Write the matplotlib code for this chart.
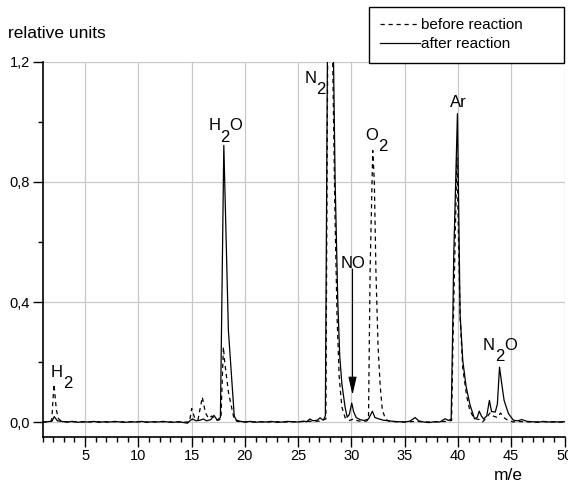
import numpy as np
import matplotlib
matplotlib.use('Agg')
from matplotlib import pyplot as plt
from matplotlib.ticker import MultipleLocator, FuncFormatter

plt.rcParams['font.family'] = ['Liberation Sans', 'DejaVu Sans']

# mass spectrum after reaction (solid)
after_mz = [1.0, 1.5, 1.9, 2.1, 2.4, 2.8, 3.3, 3.8, 4.3, 4.8, 5.3, 5.8, 6.3, 6.8, 7.3, 7.8,
            8.3, 8.8, 9.3, 9.8, 10.3, 10.8, 11.3, 11.8, 12.3, 12.8, 13.3, 13.8, 14.3, 14.6,
            14.9, 15.1, 15.4, 15.8, 16.1, 16.4, 16.8, 17.1, 17.4, 17.7, 17.85, 18.02, 18.45,
            19.0, 19.2, 19.6, 20.0, 20.5, 21.0, 21.5, 22.0, 22.5, 23.0, 23.5, 24.0, 24.5,
            25.0, 25.5, 25.8, 26.1, 26.4, 26.8, 27.05, 27.35, 27.55, 27.75, 28.05, 28.3,
            28.47, 28.72, 28.9, 29.1, 29.4, 29.6, 29.8, 30.03, 30.2, 30.44, 30.8, 31.2,
            31.6, 31.97, 32.2, 32.6, 33.0, 33.5, 34.0, 34.5, 35.0, 35.5, 35.98, 36.3, 36.8,
            37.3, 37.8, 38.3, 38.8, 39.1, 39.36, 39.5, 39.6, 39.95, 40.2, 40.45, 40.77,
            41.14, 41.55, 41.8, 42.0, 42.2, 42.4, 42.7, 42.95, 43.15, 43.5, 43.7, 43.9,
            44.1, 44.33, 44.74, 45.2, 45.6, 46.0, 46.5, 47.0, 47.5, 48.0, 48.5, 49.0,
            49.5, 50.0]
after_int = [0.000, 0.001, 0.003, 0.018, 0.004, 0.002, 0.000, 0.002, -0.001, 0.001, 0.000,
             0.002, -0.001, 0.001, 0.000, 0.002, 0.000, -0.001, 0.001, 0.000, 0.002, -0.001,
             0.001, 0.000, 0.002, 0.000, -0.001, 0.001, -0.002, -0.004, 0.006, 0.010, 0.004,
             0.006, 0.010, 0.004, 0.008, 0.022, 0.006, 0.015, 0.45, 0.922, 0.305, 0.020,
             0.006, 0.002, 0.000, 0.002, -0.001, 0.001, 0.000, 0.002, -0.001, 0.000, 0.002,
             0.001, 0.000, 0.003, 0.001, 0.010, 0.004, 0.006, 0.014, 0.006, 0.020, 1.30,
             2.50, 1.25, 0.80, 0.40, 0.22, 0.128, 0.050, 0.016, 0.025, 0.063, 0.035, 0.015,
             0.008, 0.005, 0.010, 0.036, 0.015, 0.010, 0.006, 0.004, 0.002, 0.001, 0.000,
             0.003, 0.015, 0.004, 0.000, -0.002, 0.001, 0.000, 0.011, 0.005, 0.010, 0.30,
             0.55, 1.028, 0.36, 0.205, 0.117, 0.056, 0.011, 0.015, 0.036, 0.020, 0.010,
             0.020, 0.072, 0.035, 0.033, 0.060, 0.183, 0.130, 0.072, 0.028, 0.006, 0.004,
             0.008, 0.002, 0.001, -0.001, 0.002, 0.000, 0.001, 0.000, 0.001]

# mass spectrum before reaction (dashed)
before_mz = [1.0, 1.5, 1.86, 2.08, 2.3, 2.5, 2.8, 3.3, 4.0, 5.0, 6.0, 7.0, 8.0, 9.0, 10.0,
             11.0, 12.0, 13.0, 14.0, 14.8, 15.0, 15.3, 15.6, 16.0, 16.3, 16.6, 16.9, 17.2,
             17.5, 17.75, 17.98, 18.1, 18.45, 18.8, 19.0, 19.3, 20.0, 21.0, 22.0, 23.0,
             24.0, 25.0, 26.0, 27.0, 27.6, 27.78, 28.0, 28.2, 28.45, 28.65, 28.85, 29.1,
             29.4, 29.8, 30.2, 30.6, 31.0, 31.4, 31.6, 31.75, 32.0, 32.15, 32.3, 32.5, 32.7,
             32.9, 33.2, 33.5, 34.0, 35.0, 36.0, 37.0, 38.0, 39.0, 39.4, 39.55, 39.9, 40.2,
             40.45, 40.8, 41.1, 41.5, 42.0, 42.3, 42.7, 43.0, 43.3, 43.7, 44.0, 44.3, 44.7,
             45.2, 45.5, 46.0, 47.0, 48.0, 49.0, 50.0]
before_int = [0.000, 0.000, 0.004, 0.126, 0.040, 0.011, 0.002, 0.000, 0.001, 0.000, 0.001,
              0.000, 0.001, 0.000, 0.001, 0.000, 0.001, 0.000, 0.000, 0.000, 0.045, 0.012,
              0.008, 0.083, 0.030, 0.012, 0.020, 0.008, 0.006, 0.010, 0.250, 0.200, 0.100,
              0.040, 0.008, 0.002, 0.000, 0.001, 0.000, 0.001, 0.000, 0.001, 0.002, 0.003,
              0.010, 1.30, 2.40, 1.30, 0.70, 0.35, 0.15, 0.050, 0.015, 0.005, 0.010, 0.004,
              0.002, 0.003, 0.008, 0.50, 0.905, 0.80, 0.50, 0.25, 0.12, 0.040, 0.010, 0.003,
              0.001, 0.000, 0.002, 0.000, 0.001, 0.002, 0.005, 0.30, 0.88, 0.35, 0.18, 0.09,
              0.040, 0.012, 0.008, 0.000, 0.015, 0.030, 0.020, 0.015, 0.030, 0.015, 0.005,
              0.000, 0.002, 0.001, 0.000, 0.001, 0.000, 0.000]

# peak labels, written as (text, subscript?) pieces; anchored at left edge / baseline
peak_labels = [[('H', 0), ('2', 1)],
               [('H', 0), ('2', 1), ('O', 0)],
               [('N', 0), ('2', 1)],
               [('O', 0), ('2', 1)],
               [('NO', 0)],
               [('Ar', 0)],
               [('N', 0), ('2', 1), ('O', 0)]]
label_mz = [1.77, 16.55, 25.56, 31.28, 29.03, 39.26, 42.36]
label_int = [0.149, 0.972, 1.129, 0.939, 0.515, 1.049, 0.239]

no_arrow_mz = 30.1
no_arrow_int = [0.51, 0.09]

fig = plt.figure(figsize=(5.68, 4.82), dpi=100)
ax = fig.add_axes([42.5 / 568, 45 / 482, 522 / 568, 375 / 482])

ax.plot(before_mz, before_int, color='k', lw=0.9, ls=(0, (3.4, 3.0)), label='before reaction')
ax.plot(after_mz, after_int, color='k', lw=0.9, label='after reaction')

ax.set_xlim(1, 50)
ax.set_ylim(-0.05, 1.2)
ax.xaxis.set_major_locator(MultipleLocator(5))
ax.xaxis.set_minor_locator(MultipleLocator(1))
ax.yaxis.set_major_locator(MultipleLocator(0.4))
ax.yaxis.set_minor_locator(MultipleLocator(0.2))
ax.yaxis.set_major_formatter(FuncFormatter(lambda v, p: ('%.1f' % v).replace('.', ',')))
ax.tick_params(which='major', direction='out', length=7, width=1.0, labelsize=10.5, pad=2)
ax.tick_params(which='minor', direction='out', length=3.5, width=1.0)
ax.grid(True, which='major', color='#c8c8c8', lw=0.9)
ax.set_axisbelow(True)
for s in ['top', 'right']:
    ax.spines[s].set_visible(False)
for s in ['left', 'bottom']:
    ax.spines[s].set_linewidth(1.2)

# chemical formulas: subscript digits same size, dropped below the baseline
sub_drop = 8.0
for parts, x, y in zip(peak_labels, label_mz, label_int):
    prev = ax.text(x, y, parts[0][0], fontsize=12, ha='left', va='baseline')
    prev_sub = parts[0][1]
    for txt, is_sub in parts[1:]:
        dy = (prev_sub - is_sub) * sub_drop
        prev = ax.annotate(txt, xy=(1, 0), xycoords=prev, xytext=(0, dy),
                           textcoords='offset points', fontsize=12, ha='left', va='bottom')
        prev_sub = is_sub

ax.annotate('', xy=(no_arrow_mz, no_arrow_int[1]), xytext=(no_arrow_mz, no_arrow_int[0]),
            arrowprops=dict(arrowstyle='-|>,head_length=1.1,head_width=0.25', color='k',
                            lw=0.8, mutation_scale=10, shrinkA=0, shrinkB=0))

fig.text(8 / 568, 1 - 33 / 482, 'relative units', fontsize=12.5, ha='left', va='center')
fig.text(508 / 568, 1 - 476 / 482, 'm/e', fontsize=12.5, ha='center', va='center')

leg = ax.legend(loc='upper left', bbox_to_anchor=(369 / 568, 1 - 61 / 482, 195 / 568, 54 / 482),
                bbox_transform=fig.transFigure, mode='expand', borderaxespad=0,
                fontsize=11, handlelength=2.6, handletextpad=0.05, borderpad=0.75,
                labelspacing=0.3, fancybox=False, framealpha=1, edgecolor='k')
leg.get_frame().set_linewidth(1.0)

fig.savefig('out.png', dpi=100)
